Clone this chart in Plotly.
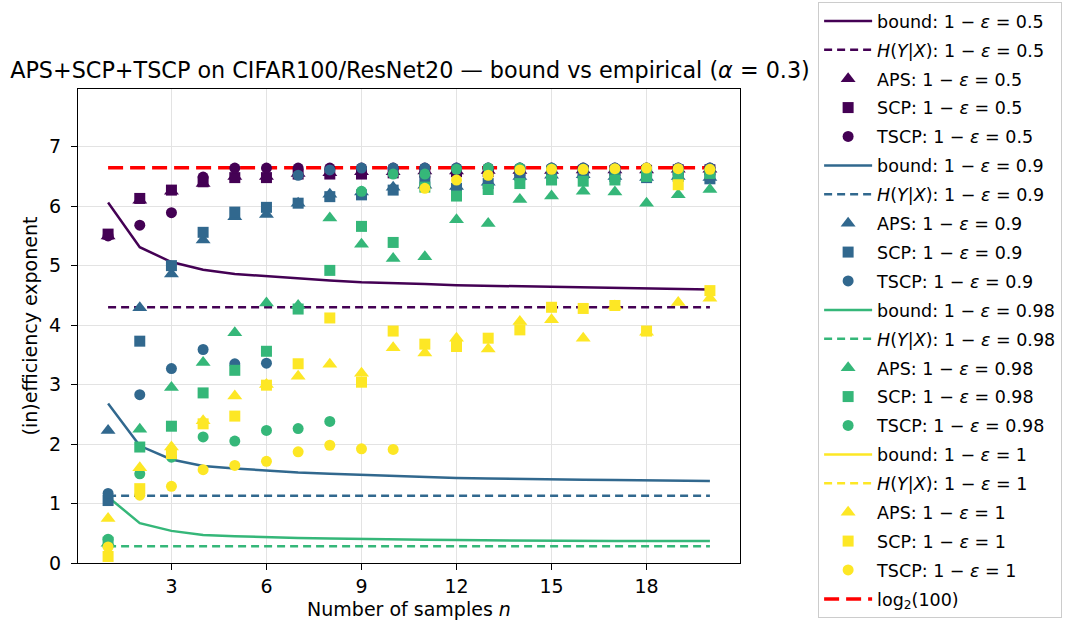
import plotly.graph_objects as go

n = list(range(1, 21))
levels = ["0.5", "0.9", "0.98", "1"]
colors = ["#440154", "#31688e", "#35b779", "#fde725"]

bound_05 = [6.06, 5.31, 5.06, 4.93, 4.86, 4.82, 4.78, 4.75, 4.72, 4.71, 4.69, 4.67, 4.66, 4.65, 4.64, 4.63, 4.62, 4.61, 4.605, 4.60]
bound_09 = [2.68, 1.97, 1.74, 1.63, 1.59, 1.55, 1.52, 1.50, 1.48, 1.47, 1.45, 1.43, 1.42, 1.41, 1.405, 1.40, 1.395, 1.39, 1.385, 1.38]
bound_098 = [1.11, 0.67, 0.54, 0.47, 0.45, 0.43, 0.42, 0.41, 0.40, 0.395, 0.39, 0.385, 0.38, 0.38, 0.375, 0.375, 0.37, 0.37, 0.37, 0.37]
bound_1 = [None] * 20

H_vals = [4.30, 1.13, 0.28, None]

aps_05 = [5.50, 6.10, 6.25, 6.38, 6.50, 6.50, 6.55, 6.56, 6.58, 6.58, 6.59, 6.59, 6.60, 6.60, 6.60, 6.61, 6.61, 6.61, 6.62, 6.62]
scp_05 = [5.53, 6.13, 6.27, 6.41, 6.48, 6.48, 6.54, 6.54, 6.54, 6.56, 6.57, 6.58, 6.58, 6.59, 6.59, 6.60, 6.60, 6.60, 6.61, 6.61]
tscp_05 = [5.50, 5.68, 5.89, 6.49, 6.64, 6.64, 6.64, 6.64, 6.64, 6.64, 6.64, 6.64, 6.64, 6.64, 6.64, 6.64, 6.64, 6.64, 6.64, 6.64]

aps_09 = [2.23, 4.29, 4.86, 5.43, 5.82, 5.86, 6.05, 6.20, 6.24, 6.32, 6.35, 6.33, 6.40, 6.50, 6.52, 6.53, 6.50, 6.48, 6.50, 6.48]
scp_09 = [1.05, 3.73, 5.00, 5.56, 5.90, 5.98, 6.05, 6.16, 6.19, 6.27, 6.42, 6.30, 6.38, 6.52, 6.55, 6.55, 6.50, 6.48, 6.50, 6.46]
tscp_09 = [1.17, 2.83, 3.27, 3.59, 3.35, 3.36, 6.52, 6.61, 6.64, 6.64, 6.64, 6.64, 6.64, 6.64, 6.64, 6.64, 6.64, 6.64, 6.64, 6.64]

aps_098 = [0.33, 2.25, 2.95, 3.37, 3.87, 4.37, 4.33, 5.80, 5.36, 5.12, 5.15, 5.77, 5.71, 6.11, 6.17, 6.25, 6.24, 6.05, 6.19, 6.28]
scp_098 = [0.35, 1.95, 2.30, 2.86, 3.24, 3.56, 4.27, 4.92, 5.66, 5.39, 6.32, 6.17, 6.28, 6.38, 6.44, 6.42, 6.44, 6.50, 6.52, 6.55]
tscp_098 = [0.40, 1.50, 1.78, 2.12, 2.05, 2.23, 2.26, 2.38, 6.25, 6.54, 6.54, 6.62, 6.64, 6.64, 6.63, 6.62, 6.62, 6.62, 6.60, 6.60]

aps_1 = [0.75, 1.60, 1.95, 2.39, 2.81, 3.00, 3.14, 3.34, 3.19, 3.62, 3.53, 3.78, 3.60, 4.06, 4.09, 3.78, 4.32, 3.88, 4.38, 4.45]
scp_1 = [0.11, 1.25, 1.84, 2.34, 2.47, 2.99, 3.35, 4.12, 3.04, 3.90, 3.68, 3.64, 3.78, 3.92, 4.30, 4.28, 4.33, 3.90, 6.36, 4.58]
tscp_1 = [0.27, 1.14, 1.29, 1.57, 1.64, 1.71, 1.87, 1.98, 1.92, 1.91, 6.30, 6.44, 6.52, 6.61, 6.62, 6.62, 6.63, 6.64, 6.63, 6.62]

log2_100 = 6.644

bounds = [bound_05, bound_09, bound_098, bound_1]
aps = [aps_05, aps_09, aps_098, aps_1]
scp = [scp_05, scp_09, scp_098, scp_1]
tscp = [tscp_05, tscp_09, tscp_098, tscp_1]

FONT = "DejaVu Sans"
FS = 19
LFS = 17.5
fig = go.Figure()

def lab(prefix, lv):
    return f"{prefix}: 1 − <i>ε</i> = {lv}"

HLAB = "<i>H</i>(<i>Y</i>|<i>X</i>)"

# lines first (drawn beneath markers)
for i, lv in enumerate(levels):
    base = i * 5
    fig.add_trace(go.Scatter(x=n, y=bounds[i], mode="lines", name=lab("bound", lv),
                             line=dict(color=colors[i], width=2.5), legendrank=base + 1,
                             legendgroup=f"g{base+1}"))
    hv = [H_vals[i]] * 20
    fig.add_trace(go.Scatter(x=n, y=hv, mode="lines", name=lab(HLAB, lv),
                             line=dict(color=colors[i], width=2.5, dash="8px,5px"), legendrank=base + 2,
                             legendgroup=f"g{base+2}"))
fig.add_trace(go.Scatter(x=n, y=[log2_100] * 20, mode="lines", name="log<sub>2</sub>(100)",
                         line=dict(color="#ff0000", width=3.5, dash="15px,7px"), legendrank=100,
                         legendgroup="g100"))

for i, lv in enumerate(levels):
    base = i * 5
    for j, (nm, data, sym, sz) in enumerate([("APS", aps[i], "triangle-up", 13),
                                            ("SCP", scp[i], "square", 11),
                                            ("TSCP", tscp[i], "circle", 11)]):
        fig.add_trace(go.Scatter(x=n, y=data, mode="markers", name=lab(nm, lv),
                                 marker=dict(color=colors[i], symbol=sym, size=sz, line=dict(width=0)),
                                 legendrank=base + 3 + j, legendgroup=f"g{base+3+j}"))

T, B = 89, 58
PH = 621 - T - B
fig.update_layout(
    width=1070, height=621,
    margin=dict(l=78, r=330, t=T, b=B, autoexpand=False),
    paper_bgcolor="white", plot_bgcolor="white",
    font=dict(family=FONT, size=FS, color="black"),
    title=dict(text="APS+SCP+TSCP on CIFAR100/ResNet20 — bound vs empirical (<i>α</i> = 0.3)",
               x=410 / 1070, xanchor="center", y=1 - 70 / 621, yanchor="middle",
               font=dict(size=22.3, family=FONT, color="black")),
    showlegend=True,
    legend=dict(x=1.118, y=(621 - B - 2) / PH, xanchor="left", yanchor="top",
                bordercolor="#cccccc", borderwidth=1, bgcolor="white",
                font=dict(size=LFS, family=FONT), tracegroupgap=3.15,
                itemwidth=48, maxheight=700),
)
fig.update_xaxes(range=[0.05, 20.95], tickvals=[3, 6, 9, 12, 15, 18], showgrid=True,
                 gridcolor="#e3e3e3", gridwidth=1, showline=True, linecolor="black", linewidth=1.2,
                 mirror=True, ticks="outside", ticklen=6, tickcolor="black", zeroline=False,
                 title=dict(text="Number of samples <i>n</i>", font=dict(size=FS), standoff=6))
fig.update_yaxes(range=[0, 7.97], tickvals=[0, 1, 2, 3, 4, 5, 6, 7], showgrid=True,
                 gridcolor="#e3e3e3", gridwidth=1, showline=True, linecolor="black", linewidth=1.2,
                 mirror=True, ticks="outside", ticklen=6, tickcolor="black", zeroline=False,
                 ticklabelstandoff=6,
                 title=dict(text="(in)efficiency exponent", font=dict(size=FS), standoff=6))

fig.write_html("out.html", config={"displayModeBar": False},
               post_script="document.body.style.margin='0px';")
